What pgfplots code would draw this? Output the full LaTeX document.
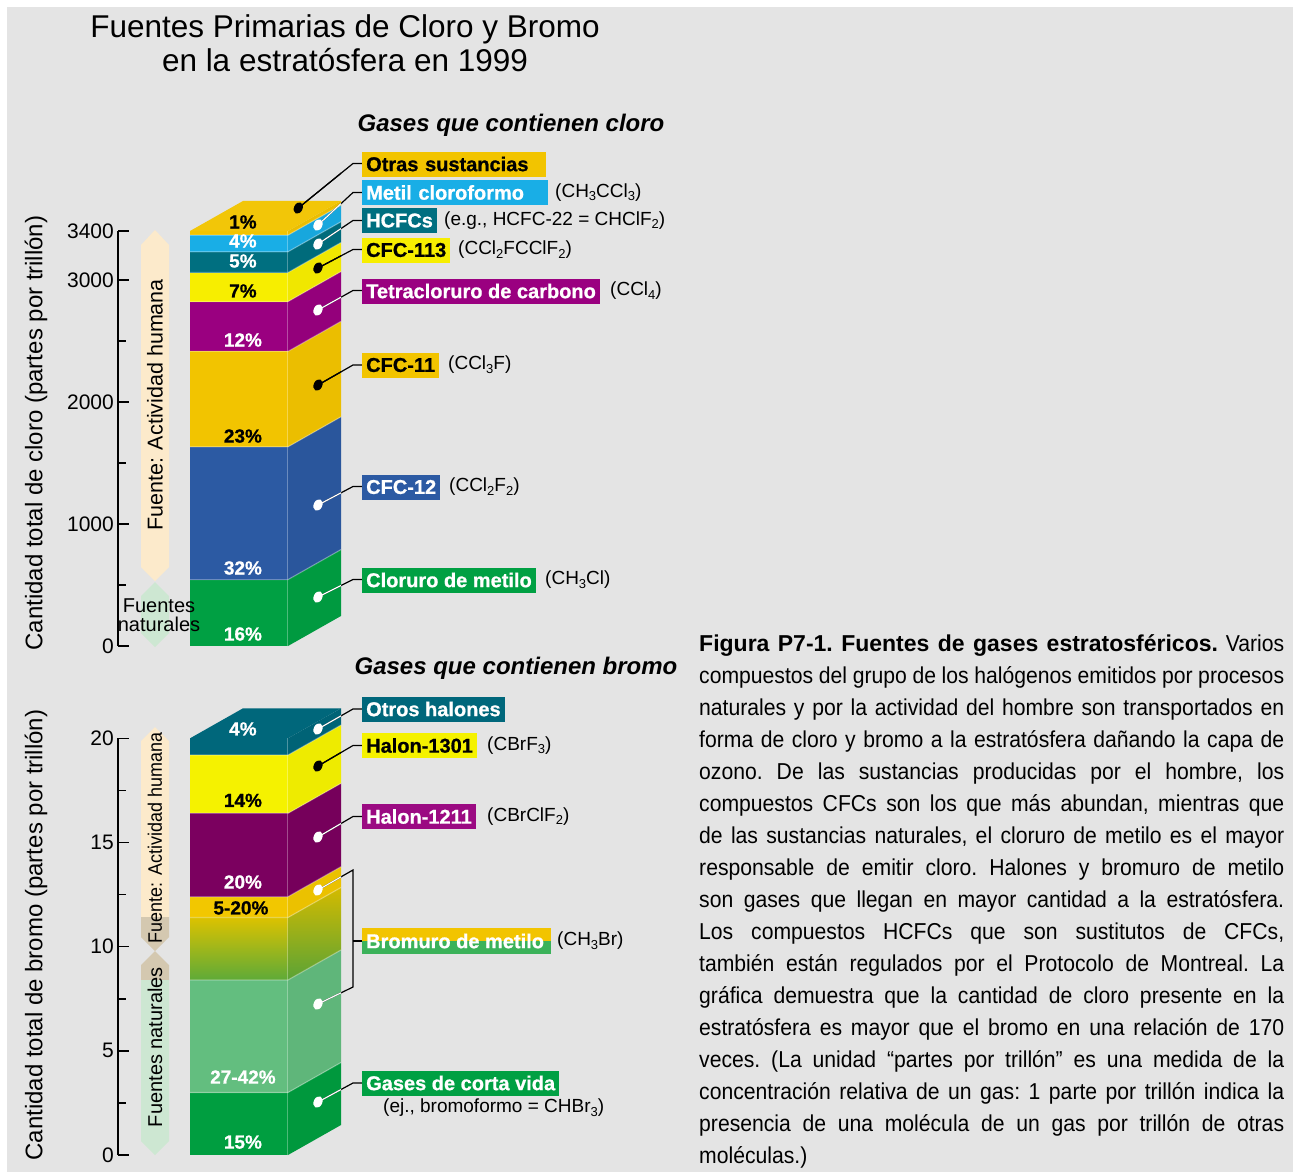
\documentclass[border=0pt]{standalone}
\usepackage{pgfplots}
\pgfplotsset{compat=1.18}
\usepackage{fontspec}
\setmainfont{Liberation Sans}
\newfontfamily\capfont[FakeStretch=0.92]{Liberation Sans}
\newfontfamily\heavy[FakeBold=0.8]{Liberation Sans Bold}

% palette
\definecolor{bgray}{HTML}{E4E4E4}
\definecolor{otras}{HTML}{F2C400}
\definecolor{metil}{HTML}{19AEE6}
\definecolor{hcfc}{HTML}{006F80}
\definecolor{cfcoto}{HTML}{F7EE00}
\definecolor{ccl4}{HTML}{9A0080}
\definecolor{cfcone}{HTML}{F2C400}
\definecolor{cfctwo}{HTML}{2C5AA3}
\definecolor{chcl}{HTML}{00A043}
\definecolor{otroshal}{HTML}{00677B}
\definecolor{hthree}{HTML}{F5F200}
\definecolor{htwo}{HTML}{7B005F}
\definecolor{htwobox}{HTML}{9B0A82}
\definecolor{mbrorange}{HTML}{F2C700}
\definecolor{mbrtop}{HTML}{DCC200}
\definecolor{mbrbot}{HTML}{5EAA38}
\definecolor{mbrnat}{HTML}{63BE7F}
\definecolor{shortlived}{HTML}{009E40}
\definecolor{brgreen}{HTML}{3BB25A}
\definecolor{peach}{HTML}{FCEACB}
\definecolor{tan}{HTML}{D4C8B0}
\definecolor{natgreen}{HTML}{CDE7D2}

\newcommand\px[1]{\fontsize{#1}{#1}\selectfont}
\newcommand\sub[1]{\raisebox{-0.35ex}{\px{13}#1}}

% one layer of a 3-D bar: front face x in [0,1], side face up to x=1.541
% #1 lower, #2 upper, #3 front colour, #4 side colour, #5 depth (y units)
\newcommand\slab[5]{%
  \pgfmathsetmacro\slabA{#1+#5}%
  \pgfmathsetmacro\slabB{#2+#5}%
  \edef\slabcmd{%
    \noexpand\addplot[draw=none,fill=#3] coordinates {(0,#1) (1,#1) (1,#2) (0,#2)} -- cycle;
    \noexpand\addplot[draw=none,fill=#4] coordinates {(1,#1) (1.541,\slabA) (1.541,\slabB) (1,#2)} -- cycle;
  }\slabcmd}
% shaded layer: #3 top colour, #4 bottom colour
\newcommand\gslab[5]{%
  \pgfmathsetmacro\slabA{#1+#5}%
  \pgfmathsetmacro\slabB{#2+#5}%
  \edef\slabcmd{%
    \noexpand\addplot[draw=none,top color=#3,bottom color=#4] coordinates {(0,#1) (1,#1) (1,#2) (0,#2)} -- cycle;
    \noexpand\addplot[draw=none,top color=#3!96!black,bottom color=#4!96!black] coordinates {(1,#1) (1.541,\slabA) (1.541,\slabB) (1,#2)} -- cycle;
  }\slabcmd}
% top face of the bar
\newcommand\topface[3]{%
  \pgfmathsetmacro\slabA{#1+#3}%
  \edef\slabcmd{%
    \noexpand\addplot[draw=none,fill=#2] coordinates {(0,#1) (1,#1) (1.541,\slabA) (0.541,\slabA)} -- cycle;
  }\slabcmd}
% light seam along a layer boundary
\newcommand\seam[2]{%
  \pgfmathsetmacro\slabA{#1+#2}%
  \edef\slabcmd{%
    \noexpand\addplot[draw=white,draw opacity=.3,line width=1.2pt] coordinates {(0,#1) (1,#1) (1.541,\slabA)};
  }\slabcmd}

\pgfplotsset{
  barax/.style={
    scale only axis, width=223pt, xmin=-0.735, xmax=1.541, ymin=0,
    clip=false, axis x line=none, axis y line=left,
    axis line style={-, line width=1.6pt, black},
    tick align=inside, major tick length=11pt, minor tick length=8pt,
    tick style={black, line width=1.6pt},
    yticklabel style={font=\px{21}, inner sep=4pt},
    /pgf/number format/1000 sep={}, /pgf/number format/assume math mode=true,
  },
}
\tikzset{pct/.style={font=\heavy\px{19}, inner sep=0pt}}

% label box, leader line and callout dot
\newcommand\lab[5]{\node[anchor=west, fill=#2, text=#3, font=\heavy\px{20}, inner xsep=4pt, inner ysep=0pt, minimum height=25pt, #5] at (362,#1) {#4};}
\newcommand\leader[4]{%
  \draw[black, line width=1.2pt] (#1,#2) -- (353,#3) -- (362,#3);
  \begin{scope}\clip (280,0) rectangle (341,1172);
    \draw[#4, line width=1.2pt] (#1,#2) -- (353,#3);
  \end{scope}
  \fill[#4, rotate around={-25:(#1,#2)}] (#1,#2) ellipse (4.3 and 6);}
\newcommand\formula[3]{\node[anchor=west, font=\px{19}, inner sep=0pt] at (#1,#2) {#3};}

\begin{document}
\begin{tikzpicture}
\begin{scope}[x=1pt,y=-1pt]
  \useasboundingbox (0,0) rectangle (1293,1172);
  \fill[white] (0,0) rectangle (1293,1172);
  \fill[bgray] (7,7) rectangle (1293,1172);

  % source arrows, chlorine
  \fill[peach] (155,230) -- (169,245) -- (169,567) -- (155,581) -- (141,567) -- (141,245) -- cycle;
  \fill[natgreen] (155,582) -- (169,596) -- (169,633) -- (155,647) -- (141,633) -- (141,596) -- cycle;
  % source arrows, bromine
  \fill[peach] (155,727) -- (169,741) -- (169,917) -- (141,917) -- (141,741) -- cycle;
  \fill[tan] (141,917) -- (169,917) -- (169,937) -- (155,951) -- (141,937) -- cycle;
  \fill[tan] (155,951) -- (169,965) -- (169,980) -- (141,980) -- (141,965) -- cycle;
  \fill[natgreen] (141,980) -- (169,980) -- (169,1141) -- (155,1155) -- (141,1141) -- cycle;
\end{scope}

% chlorine
\begin{axis}[barax, at={(118pt,-646pt)}, anchor=south west, height=415pt, ymax=3400,
  ytick={0,1000,2000,3000,3400}, minor ytick={500,1500,2500}]
  \slab{0}{544}{chcl}{chcl!96!black}{246}
  \slab{544}{1632}{cfctwo}{cfctwo!96!black}{246}
  \slab{1632}{2414}{cfcone}{cfcone!97!black}{246}
  \slab{2414}{2822}{ccl4}{ccl4!96!black}{246}
  \slab{2822}{3060}{cfcoto}{cfcoto!97!black}{246}
  \slab{3060}{3230}{hcfc}{hcfc!96!black}{246}
  \slab{3230}{3366}{metil}{metil!96!black}{246}
  \slab{3366}{3400}{otras}{otras!97!black}{246}
  \topface{3400}{otras!97!white}{246}
  \seam{544}{246}\seam{1632}{246}\seam{2414}{246}\seam{2822}{246}
  \seam{3060}{246}\seam{3230}{246}\seam{3366}{246}
  \addplot[draw=white, draw opacity=.3, line width=1pt] coordinates {(1,0) (1,3400)};
  \node[pct, text=black] at (0.54,3474) {1\%};
  \node[pct, text=white] at (0.54,3318) {4\%};
  \node[pct, text=white] at (0.54,3154) {5\%};
  \node[pct, text=black] at (0.54,2909) {7\%};
  \node[pct, text=white] at (0.54,2507) {12\%};
  \node[pct, text=black] at (0.54,1720) {23\%};
  \node[pct, text=white] at (0.54,639) {32\%};
  \node[pct, text=white] at (0.54,98) {16\%};
\end{axis}

% bromine
\begin{axis}[barax, at={(118pt,-1155pt)}, anchor=south west, height=416.7pt, ymax=20,
  ytick={0,5,10,15,20}, minor ytick={2.5,7.5,12.5,17.5}]
  \slab{0}{3.0}{shortlived}{shortlived!96!black}{1.44}
  \slab{3.0}{8.4}{mbrnat}{mbrnat!96!black}{1.44}
  \gslab{8.4}{11.4}{mbrtop}{mbrbot}{1.44}
  \slab{11.4}{12.4}{mbrorange}{mbrorange!97!black}{1.44}
  \slab{12.4}{16.4}{htwo}{htwo!96!black}{1.44}
  \slab{16.4}{19.2}{hthree}{hthree!97!black}{1.44}
  \slab{19.2}{20.0}{otroshal}{otroshal!96!black}{1.44}
  \topface{20}{otroshal}{1.44}
  \seam{3.0}{1.44}\seam{8.4}{1.44}\seam{11.4}{1.44}\seam{12.4}{1.44}
  \seam{16.4}{1.44}\seam{19.2}{1.44}
  \addplot[draw=white, draw opacity=.3, line width=1pt] coordinates {(1,0) (1,20)};
  \node[pct, text=white] at (0.54,20.45) {4\%};
  \node[pct, text=black] at (0.54,17.02) {14\%};
  \node[pct, text=white] at (0.54,13.1) {20\%};
  \node[pct, text=black] at (0.52,11.86) {5-20\%};
  \node[pct, text=white] at (0.54,3.74) {27-42\%};
  \node[pct, text=white] at (0.54,0.62) {15\%};
\end{axis}

\begin{scope}[x=1pt,y=-1pt]
  % titles
  \node[anchor=base, font=\px{31.5}, inner sep=0pt] at (345,38) {Fuentes Primarias de Cloro y Bromo};
  \node[anchor=base, font=\px{31.5}, inner sep=0pt] at (345,72) {en la estratósfera en 1999};
  \node[font=\px{24}\bfseries\itshape, inner sep=0pt] at (511,125) {Gases que contienen cloro};
  \node[font=\px{24}\bfseries\itshape, inner sep=0pt] at (516,668) {Gases que contienen bromo};

  % axis titles
  \node[rotate=90, font=\px{24}, inner sep=0pt] at (36,433) {Cantidad total de cloro (partes por trillón)};
  \node[rotate=90, font=\px{24}, inner sep=0pt] at (36,935) {Cantidad total de bromo (partes por trillón)};

  % source arrow texts
  \node[rotate=90, font=\px{21.5}, inner sep=0pt] at (155,405) {Fuente: Actividad humana};
  \node[align=center, font=\px{20}, inner sep=0pt] at (159,615) {Fuentes\\[-1pt]naturales};
  \node[rotate=90, font=\capfont\px{19.5}, inner sep=0pt] at (155,838) {Fuente: Actividad humana};
  \node[rotate=90, font=\px{20}, inner sep=0pt] at (155,1047) {Fuentes naturales};

  % chlorine labels
  \leader{298.3}{208}{163.5}{black}
  \lab{164}{otras}{black}{Otras sustancias}{text width=176pt, align=left}
  \leader{318}{225}{192.5}{white}
  \lab{192.5}{metil}{white}{Metil cloroformo}{text width=178pt, align=left}
  \formula{555}{192.5}{(CH\sub{3}CCl\sub{3})}
  \leader{318}{244}{220.5}{white}
  \lab{220.5}{hcfc}{white}{HCFCs}{}
  \formula{444}{220.5}{(e.g., HCFC-22 = CHClF\sub{2})}
  \leader{318}{268}{249.5}{black}
  \lab{250}{cfcoto}{black}{CFC-113}{}
  \formula{458}{250}{(CCl\sub{2}FCClF\sub{2})}
  \leader{318}{310}{290.5}{white}
  \lab{291}{ccl4}{white}{Tetracloruro de carbono}{}
  \formula{610}{291}{(CCl\sub{4})}
  \leader{318}{385}{365}{black}
  \lab{365}{cfcone}{black}{CFC-11}{}
  \formula{448}{365}{(CCl\sub{3}F)}
  \leader{318}{505}{486.5}{white}
  \lab{487}{cfctwo}{white}{CFC-12}{}
  \formula{449}{487}{(CCl\sub{2}F\sub{2})}
  \leader{318}{597}{579.5}{white}
  \lab{580}{chcl}{white}{Cloruro de metilo}{}
  \formula{545}{580}{(CH\sub{3}Cl)}

  % bromine labels
  \leader{318}{729}{709}{white}
  \lab{709}{otroshal}{white}{Otros halones}{}
  \leader{318}{766}{745.5}{black}
  \lab{745.5}{hthree}{black}{Halon-1301}{}
  \formula{487}{745.5}{(CBrF\sub{3})}
  \leader{318}{837}{816.5}{white}
  \lab{816.5}{htwobox}{white}{Halon-1211}{}
  \formula{487}{816.5}{(CBrClF\sub{2})}
  % methyl bromide bracket
  \draw[black, line width=1.2pt] (318,890) -- (353,870) -- (353,987) -- (318,1004);
  \draw[black, line width=1.2pt] (353,941) -- (362,941);
  \begin{scope}\clip (280,0) rectangle (341,1172);
    \draw[white, line width=1.2pt] (318,890) -- (353,870);
    \draw[white, line width=1.2pt] (318,1004) -- (353,987);
  \end{scope}
  \fill[white, rotate around={-25:(318,890)}] (318,890) ellipse (4.3 and 6);
  \fill[white, rotate around={-25:(318,1004)}] (318,1004) ellipse (4.3 and 6);
  \fill[otras] (362,928) rectangle (551,941);
  \fill[brgreen] (362,941) rectangle (551,954);
  \node[anchor=west, text=white, font=\heavy\px{20}, inner sep=0pt] at (366,941) {Bromuro de metilo};
  \formula{557}{941}{(CH\sub{3}Br)}
  \leader{318}{1102}{1083}{white}
  \lab{1083}{chcl}{white}{Gases de corta vida}{}
  \formula{383}{1108}{(ej., bromoformo = CHBr\sub{3})}

  % caption
  \node[anchor=base west, inner sep=0pt] at (699,651) {\parbox[t]{585pt}{%
    \capfont\fontsize{23}{32}\selectfont\frenchspacing
    \tolerance=10000\hyphenpenalty=10000\noindent
    {\rmfamily\bfseries Figura P7-1. Fuentes de gases estratosféricos.} Varios\linebreak
    compuestos del grupo de los halógenos emitidos por procesos\linebreak
    naturales y por la actividad del hombre son transportados en\linebreak
    forma de cloro y bromo a la estratósfera dañando la capa de\linebreak
    ozono. De las sustancias producidas por el hombre, los\linebreak
    compuestos CFCs son los que más abundan, mientras que\linebreak
    de las sustancias naturales, el cloruro de metilo es el mayor\linebreak
    responsable de emitir cloro. Halones y bromuro de metilo\linebreak
    son gases que llegan en mayor cantidad a la estratósfera.\linebreak
    Los compuestos HCFCs que son sustitutos de CFCs,\linebreak
    también están regulados por el Protocolo de Montreal. La\linebreak
    gráfica demuestra que la cantidad de cloro presente en la\linebreak
    estratósfera es mayor que el bromo en una relación de 170\linebreak
    veces. (La unidad “partes por trillón” es una medida de la\linebreak
    concentración relativa de un gas: 1 parte por trillón indica la\linebreak
    presencia de una molécula de un gas por trillón de otras\linebreak
    moléculas.)}};
\end{scope}
\end{tikzpicture}
\end{document}
